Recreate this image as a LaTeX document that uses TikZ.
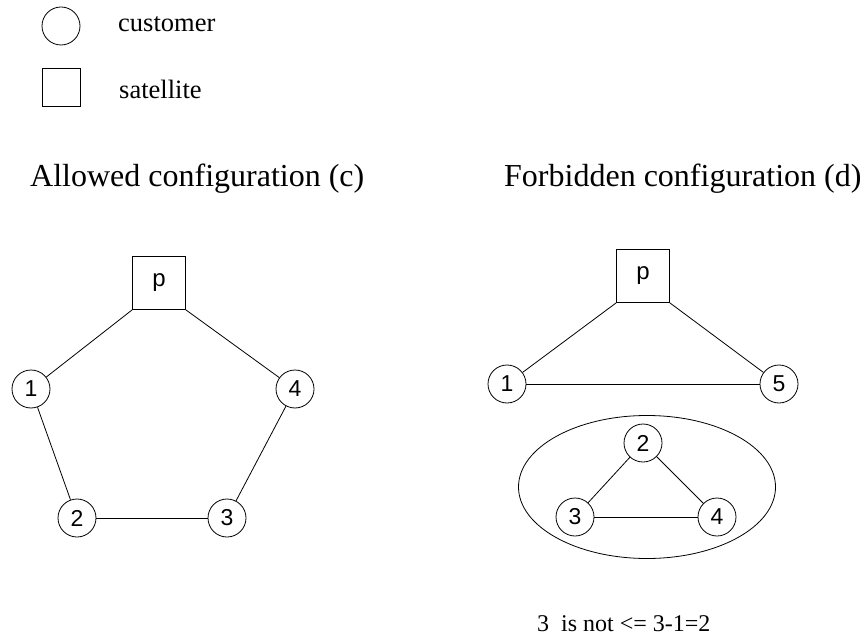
\documentclass[tikz,border=0pt]{standalone}
\usepackage{fontspec}
\setmainfont{Liberation Serif}
\newfontfamily\nodefont{Liberation Sans}
\usetikzlibrary{shapes.geometric}

\tikzset{
  cust/.style={circle, draw, line width=0.8pt, minimum size=38pt, inner sep=0pt,
               font=\nodefont\fontsize{23}{26}\selectfont},
  sat/.style={rectangle, draw, line width=0.8pt, minimum size=53pt, inner sep=0pt,
              font=\nodefont\fontsize{24}{28}\selectfont},
  legcust/.style={circle, draw, line width=0.8pt, minimum size=38pt, inner sep=0pt},
  legsat/.style={rectangle, draw, line width=0.8pt, minimum size=38pt, inner sep=0pt},
  legtext/.style={anchor=base west, inner sep=0pt, font=\fontsize{26.5}{30}\selectfont},
  heading/.style={anchor=base west, inner sep=0pt, font=\fontsize{32}{38}\selectfont},
  note/.style={anchor=base west, inner sep=0pt, font=\fontsize{24}{28}\selectfont},
  edge/.style={line width=0.8pt},
  group/.style={ellipse, draw, line width=0.8pt, minimum width=257pt, minimum height=143pt, inner sep=0pt}
}

\begin{document}
\begin{tikzpicture}[x=1pt, y=-1pt]
  \useasboundingbox (0,0) rectangle (864,636);

  % legend
  \node[legcust] (lc) at (61,26) {};
  \node[legtext] (lct) at (118,32) {customer};
  \node[legsat] (ls) at (61,87) {};
  \node[legtext] (lst) at (119,99) {satellite};

  % headings
  \node[heading] (hc) at (30,187) {Allowed configuration (c)};
  \node[heading] (hd) at (504,187) {Forbidden configuration (d)};

  % allowed configuration: a single cycle through the satellite
  \node[sat]  (pa) at (159,283) {p};
  \node[cust] (a1) at (31,389) {1};
  \node[cust] (a4) at (295,389) {4};
  \node[cust] (a2) at (77,518) {2};
  \node[cust] (a3) at (227,518) {3};
  \draw[edge] (pa.south west) -- (a1);
  \draw[edge] (pa.south east) -- (a4);
  \draw[edge] (a1) -- (a2);
  \draw[edge] (a2) -- (a3);
  \draw[edge] (a3) -- (a4);

  % forbidden configuration: a detached subtour
  \node[sat]  (pd) at (643,276) {p};
  \node[cust] (d1) at (507,384) {1};
  \node[cust] (d5) at (779,384) {5};
  \draw[edge] (pd.south west) -- (d1);
  \draw[edge] (pd.south east) -- (d5);
  \draw[edge] (d1) -- (d5);

  \node[group] (sub) at (647,487) {};
  \node[cust] (d2) at (643,443) {2};
  \node[cust] (d3) at (575,517) {3};
  \node[cust] (d4) at (717,517) {4};
  \draw[edge] (d2) -- (d3);
  \draw[edge] (d2) -- (d4);
  \draw[edge] (d3) -- (d4);

  \node[note] (nt) at (537,631) {3\ \ is not <= 3-1=2};
\end{tikzpicture}
\end{document}
